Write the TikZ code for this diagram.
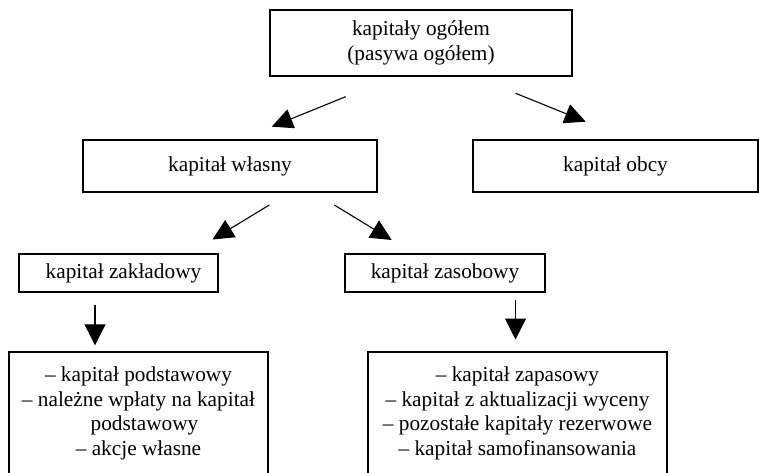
\documentclass[tikz,border=0pt]{standalone}
\usepackage{fontspec}
\setmainfont{Liberation Serif}
\usetikzlibrary{arrows.meta}
\begin{document}
\begin{tikzpicture}[x=1pt,y=-1pt,
  box/.style={draw,line width=1.4pt,rectangle,align=center,inner sep=0pt,
    font=\fontsize{21.3}{24.5}\selectfont},
  arr/.style={line width=1.1pt,-{Triangle[length=21pt,width=20pt]}},
  darr/.style={line width=1.1pt,-{Triangle[length=21pt,width=21pt]}}]
\useasboundingbox (0,0) rectangle (759,473);

\node[box,minimum width=302pt,minimum height=66pt] (top) at (421,43)
  {kapitały ogółem\\(pasywa ogółem)};
\node[box,minimum width=294pt,minimum height=52pt] (wlasny) at (230,166)
  {kapitał własny};
\node[box,minimum width=285pt,minimum height=52pt] (obcy) at (615.5,166)
  {kapitał obcy};
\node[box,minimum width=199pt,minimum height=38pt] (zakl) at (118.5,273)
  {\hspace*{10pt}kapitał zakładowy};
\node[box,minimum width=200pt,minimum height=38pt] (zas) at (445,273)
  {kapitał zasobowy};
\node[box,minimum width=259pt,minimum height=123pt] (lbox) at (138.5,413.5)
  {– kapitał podstawowy\\– należne wpłaty na kapitał\\\hspace*{12pt}podstawowy\\– akcje własne};
\node[box,minimum width=299pt,minimum height=123pt] (rbox) at (517.5,413.5)
  {– kapitał zapasowy\\– kapitał z aktualizacji wyceny\\– pozostałe kapitały rezerwowe\\– kapitał samofinansowania};

\coordinate (a1s) at (345.7,96.7);
\coordinate (a1e) at (271.7,126.7);
\coordinate (a2s) at (515.7,93.3);
\coordinate (a2e) at (585.7,121.7);
\coordinate (a3s) at (269.3,205);
\coordinate (a3e) at (212.5,239.5);
\coordinate (a4s) at (334.3,205);
\coordinate (a4e) at (391.7,240);
\coordinate (a5s) at (95,305);
\coordinate (a5e) at (95,345.3);
\coordinate (a6s) at (515.5,300);
\coordinate (a6e) at (515.5,339.5);

\draw[arr] (a1s) -- (a1e);
\draw[arr] (a2s) -- (a2e);
\draw[arr] (a3s) -- (a3e);
\draw[arr] (a4s) -- (a4e);
\draw[darr] (a5s) -- (a5e);
\draw[darr] (a6s) -- (a6e);
\end{tikzpicture}
\end{document}
